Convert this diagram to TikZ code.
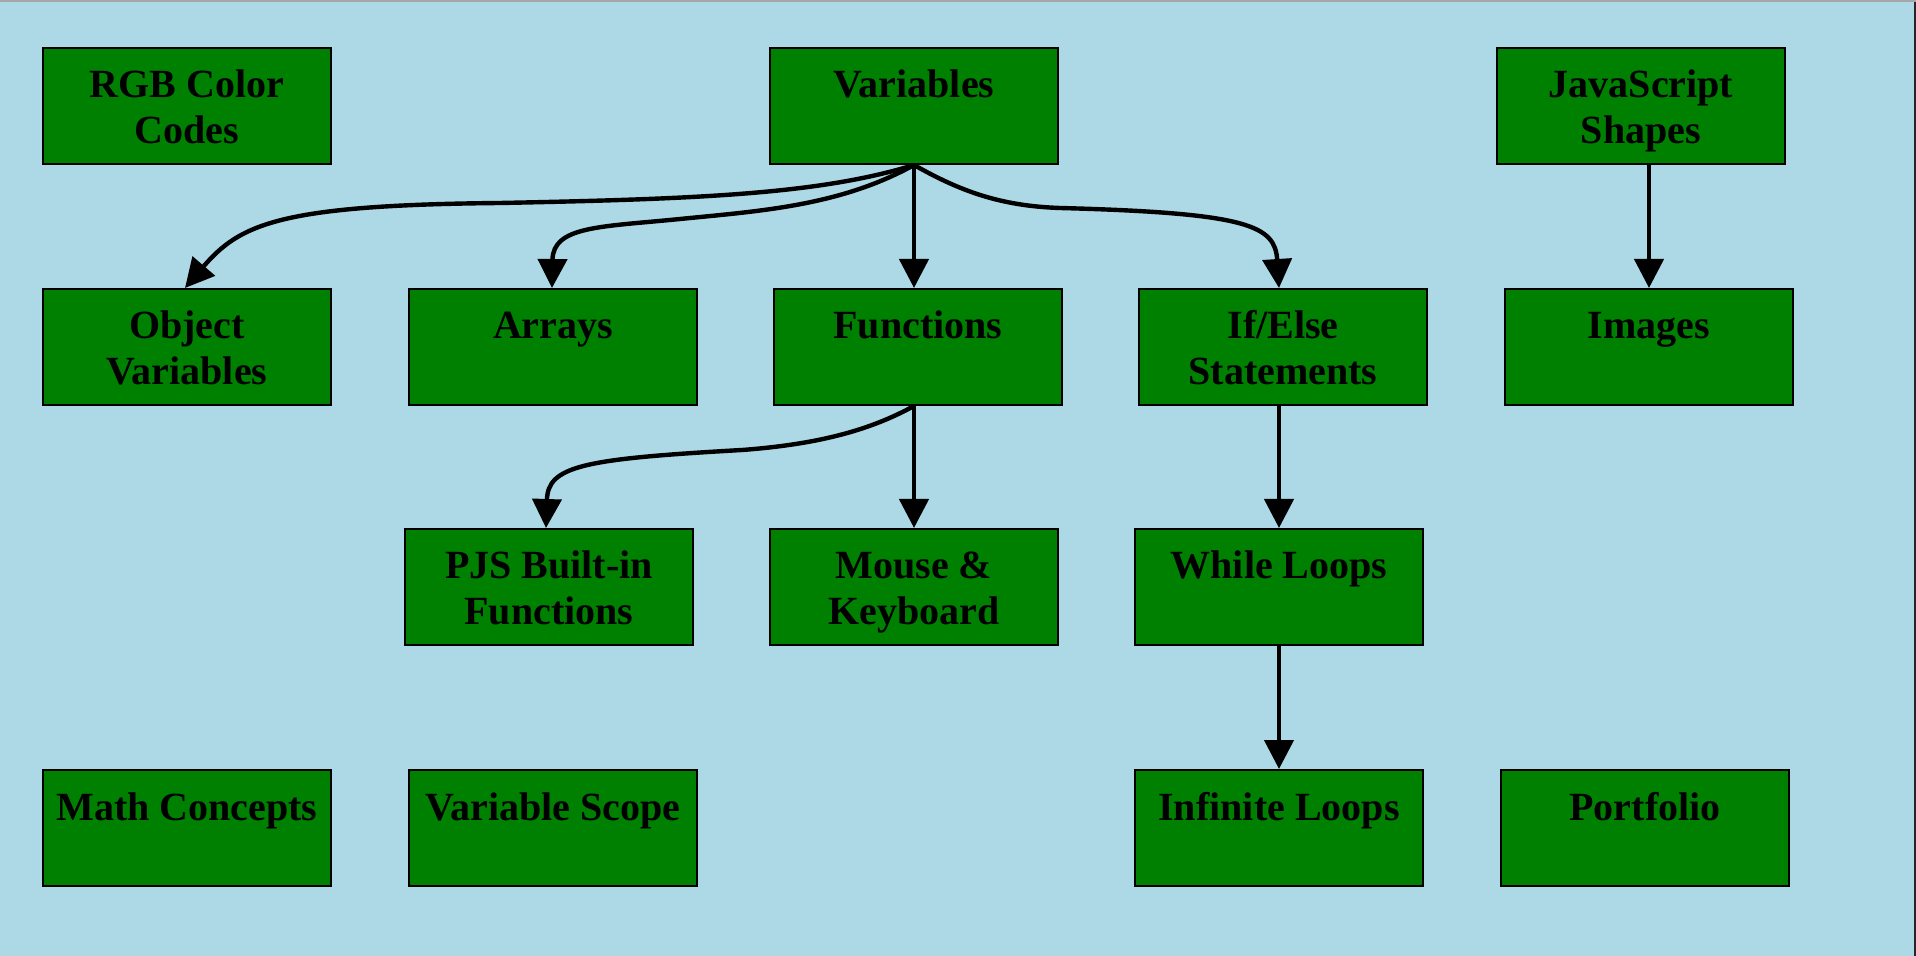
\documentclass[tikz,border=0pt]{standalone}
\usepackage{fontspec}
\setmainfont{Liberation Serif}
\usetikzlibrary{arrows.meta}

\definecolor{bgblue}{HTML}{ADD8E6}
\definecolor{boxgreen}{HTML}{008000}
\newcommand{\boxtext}[1]{\parbox[c][58pt][t]{142pt}{\centering\rule{0pt}{25pt}#1}}

\tikzset{
	topic/.style={draw=black, line width=1pt, fill=boxgreen, inner sep=0pt,
		minimum width=144pt, minimum height=58pt,
		font=\fontsize{20pt}{23pt}\selectfont\bfseries},
	link/.style={line width=2.2pt, -{Triangle[length=14.5pt, width=14.5pt]}}
}

\begin{document}
\begin{tikzpicture}[x=0.5pt, y=-0.5pt]
	\def \colA{ 187 };
	\def \rowA{ 106 };
	\def \rowB{ 347 };
	\def \rowC{ 587 };
	\def \rowD{ 828 };
	\fill[bgblue] (0,0) rectangle (1916,956);
	\useasboundingbox (0,0) rectangle (1916,956);
	\draw[gray!70, line width=1pt] (0,1) -- (1916,1);
	\draw[black!85, line width=1pt] (1915,2) -- (1915,956);
	\node[topic] (rgb) at (\colA,\rowA) {\boxtext{RGB Color\\Codes}};
	\node[topic] (var) at (914,\rowA) {\boxtext{Variables}};
	\node[topic] (js) at (1641,\rowA) {\boxtext{JavaScript\\Shapes}};
	\node[topic] (obj) at (\colA,\rowB) {\boxtext{Object\\Variables}};
	\node[topic] (arr) at (553,\rowB) {\boxtext{Arrays}};
	\node[topic] (fun) at (918,\rowB) {\boxtext{Functions}};
	\node[topic] (ifel) at (1283,\rowB) {\boxtext{If/Else\\Statements}};
	\node[topic] (img) at (1649,\rowB) {\boxtext{Images}};
	\node[topic] (pjs) at (549,\rowC) {\boxtext{PJS Built-in\\Functions}};
	\node[topic] (mouse) at (914,\rowC) {\boxtext{Mouse \&\\Keyboard}};
	\node[topic] (while) at (1279,\rowC) {\boxtext{While Loops}};
	\node[topic] (math) at (\colA,\rowD) {\boxtext{Math Concepts}};
	\node[topic] (scope) at (553,\rowD) {\boxtext{Variable Scope}};
	\node[topic] (inf) at (1279,\rowD) {\boxtext{Infinite Loops}};
	\node[topic] (port) at (1645,\rowD) {\boxtext{Portfolio}};
	\draw[link] (var.south) .. controls +(-94,29) and +(200,-4) .. ([xshift=-207pt,yshift=-19pt]var.south) .. controls +(-220,2) and +(55,-64) .. ([xshift=-1pt]obj.north);
	\draw[link] (var.south) .. controls +(-74,41) and +(80,-8) .. ([xshift=-117pt,yshift=-27pt]var.south) .. controls +(-80,8) and +(1,-62) .. ([xshift=-0.5pt]arr.north);
	\draw[link] (var.south) -- (var.south |- fun.north);
	\draw[link] (var.south) .. controls +(46,26) and +(-60,-2) .. ([xshift=73pt,yshift=-21.5pt]var.south) .. controls +(190,5) and +(-4,-62) .. ([xshift=-2pt]ifel.north);
	\draw[link] (mouse.north |- fun.south) .. controls +(-42,23) and +(80,-6) .. ([xshift=-86pt,yshift=-22pt]mouse.north |- fun.south) .. controls +(-160,9) and +(2,-62) .. ([xshift=-1.5pt]pjs.north);
	\draw[link] (mouse.north |- fun.south) -- (mouse.north);
	\draw[link] (img.north |- js.south) -- (img.north);
	\draw[link] (while.north |- ifel.south) -- (while.north);
	\draw[link] (while.south) -- (inf.north);
\end{tikzpicture}
\end{document}
